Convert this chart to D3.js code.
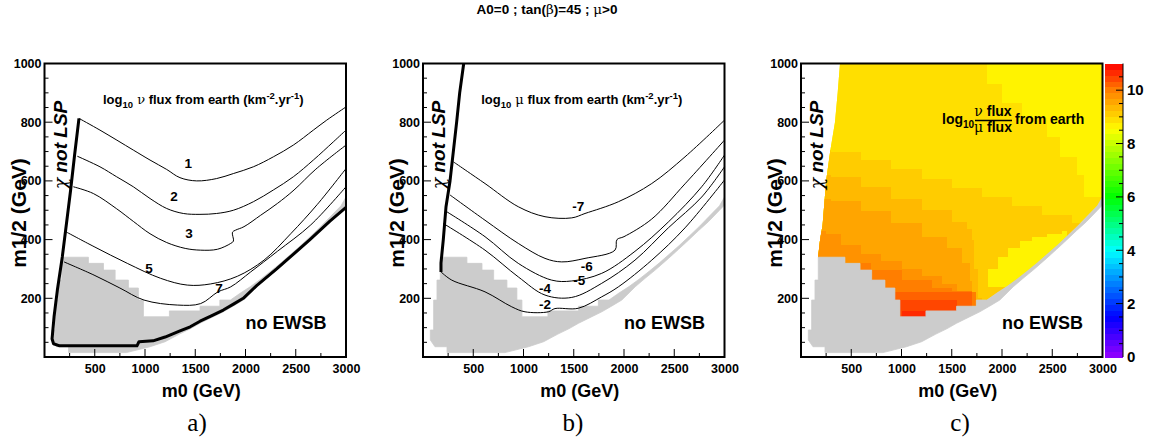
<!DOCTYPE html>
<html><head><meta charset="utf-8">
<script src="https://cdn.jsdelivr.net/npm/d3@7"></script>
<style>body{margin:0;background:#fff}svg{display:block}</style>
</head><body>
<svg id="chart" width="1157" height="441"></svg>
<script>
// ---------------- DATA ----------------
const m0Ticks = [500, 1000, 1500, 2000, 2500, 3000];
const m12Ticks = [200, 400, 600, 800, 1000];
const cbTicks = [0, 2, 4, 6, 8, 10];

// chi not LSP boundaries
const lspLineA = [[343,813],[300,690],[260,569],[227,478],[177,341],[128,228],[95,137],[80,80],[75,62]];
const ewsbLineA = [[75,62],[90,45],[150,38],[920,38],[940,52],[1080,55],[1200,68],[1342,88],[1450,103],[1548,122],[1660,140],[1779,160],[1880,180],[1978,200],[2111,243],[2310,300],[2443,340],[2641,400],[2840,463],[3000,510]];
const lspLineB = [[179,290],[179,320],[202,400],[229,512],[269,600],[335,801],[365,900],[401,990],[405,1000]];
const lspEdgeC = [[170,340],[190,400],[215,450],[250,600],[290,700],[338,800],[365,900],[388,1000]];

// grey (excluded) region
const greyTopEdge = [[73,58],[73,92],[106,92],[106,194],[139,194],[139,262],[172,262],[172,340],[437,340],[437,319],[587,319],[587,296],[703,296],[703,262],[835,262],[835,235],[934,235],[934,194],[984,194],[984,137],[1243,137],[1243,157],[1548,157],[1548,173],[1745,173],[1745,194],[1850,194],[1950,218],[2050,240],[2150,265],[2250,292],[2350,320],[2450,350],[2550,380],[2650,412],[2750,445],[2850,480],[2950,515],[3000,545]];
const ewsbBoundary = [[119,35],[239,35],[239,15],[815,15],[1050,35],[1200,52],[1342,78],[1450,96],[1548,115],[1660,134],[1779,154],[1880,174],[1978,194],[2040,215],[2111,239],[2210,268],[2310,296],[2443,336],[2540,366],[2641,398],[2740,430],[2840,461],[2950,500],[3000,518]];

// panel a : log10 nu flux contours
const nuContour1 = [[343,813],[552,773],[884,705],[1050,671],[1216,639],[1348,611],[1514,600],[1713,608],[1879,625],[2078,648],[2277,682],[2476,722],[2675,773],[2808,807],[3000,852]];
const nuContour2 = [[327,684],[552,648],[718,614],[884,580],[1050,540],[1216,506],[1381,489],[1547,486],[1713,489],[1879,500],[2078,529],[2277,569],[2476,614],[2675,671],[2874,733],[3000,773]];
const nuContour3 = [[287,580],[486,557],[718,505],[884,462],[1050,420],[1216,390],[1400,370],[1554,364],[1720,367],[1853,387],[1880,395],[1870,425],[1900,432],[1985,444],[2151,483],[2317,523],[2483,569],[2700,640],[3000,722]];
const nuContour5 = [[211,427],[493,376],[824,319],[1156,268],[1421,245],[1654,249],[1919,275],[2184,330],[2450,420],[2715,520],[3000,642]];
const nuContour7 = [[194,324],[493,279],[750,235],[990,194],[1321,177],[1554,182],[1726,222],[1853,239],[2052,290],[2317,360],[2649,450],[3000,580]];
const nuLabelText = ["1","2","3","5","7"];
const nuLabelPos = [[1431,659],[1289,546],[1438,421],[1040,302],[1736,234]];

// panel b : log10 mu flux contours
const muContourM7 = [[302,665],[617,591],[948,512],[1214,478],[1480,474],[1612,489],[1944,529],[2276,591],[2607,682],[3000,807]];
const muContourM6 = [[269,552],[617,466],[948,387],[1214,336],[1380,324],[1612,336],[1910,364],[1930,400],[2000,410],[2276,470],[2607,590],[3000,739]];
const muContourM5 = [[236,495],[617,410],[948,319],[1280,262],[1480,259],[1778,285],[2109,360],[2441,460],[2773,580],[3000,688]];
const muContourM4 = [[202,455],[617,364],[948,273],[1214,211],[1480,203],[1778,251],[2109,330],[2441,440],[2773,545],[3000,648]];
const muContourM2 = [[179,290],[286,262],[617,222],[883,171],[1015,154],[1247,154],[1313,165],[1545,166],[1778,205],[1944,239],[2276,330],[2607,440],[3000,603]];
const muLabelText = ["-7","-6","-5","-4","-2"];
const muLabelPos = [[1545,512],[1629,307],[1555,262],[1214,234],[1214,178]];

// panel c : log10(nu flux / mu flux) bands (region below each edge takes the level)
const ratioLevels = [9.0, 9.2, 9.4, 9.6, 9.85, 10.05, 10.3, 10.55, 10.75];
const ratioBase = 8.75;
const ratioEdge90 = [[0,1100],[1650,1100],[1700,1000],[1850,930],[2000,865],[2200,815],[2450,750],[2580,680],[2750,620],[2820,545],[3000,530]];
const ratioEdge92 = [[0,705],[300,700],[600,672],[900,640],[1200,605],[1500,575],[1800,545],[2100,515],[2400,485],[2700,455],[3000,430]];
const ratioEdge94 = [[0,620],[300,612],[600,580],[900,540],[1200,500],[1500,460],[1650,435],[1700,400],[1720,300],[1760,200],[1800,150]];
const ratioEdge96 = [[0,540],[300,532],[600,498],[900,455],[1200,410],[1450,370],[1600,320],[1680,260],[1700,150]];
const ratioEdge985 = [[0,430],[250,420],[400,380],[600,352],[800,326],[1000,300],[1200,275],[1400,248],[1550,225],[1600,185],[1620,100]];
const ratioEdge1005 = [[600,320],[700,296],[1000,262],[1300,235],[1500,225],[1700,220],[1740,200],[1740,100]];
const ratioEdge103 = [[930,222],[1700,222],[1700,100]];
const ratioEdge1055 = [[980,194],[1550,194],[1550,100]];
const ratioEdge1075 = [[1000,157],[1243,157],[1243,100]];
const ratioPocket = [[1860,240],[1860,300],[1960,340],[2060,370],[2180,395],[2300,410],[2450,420],[2600,430],[2650,300],[2650,240]];

// ---------------- RENDER ----------------
const svg = d3.select("#chart");
const FONT = "'Liberation Sans', Arial, Helvetica, sans-serif";
const panelBoxes = [
  {l:44.5, r:346, t:63.5, b:357},
  {l:423, r:724.5, t:63.5, b:357},
  {l:801, r:1102.5, t:63.5, b:357}
];

const hueScale = d3.scaleLinear().domain([0,2,4,6,8.55,10,11]).range([275,228,180,120,60,30,0]);
const nBands = 50, zMax = 11;
function bandColor(v){
  const k = Math.max(0, Math.min(nBands-1, Math.floor(v/zMax*nBands)));
  const c = (k+0.5)*zMax/nBands;
  return d3.hsl(hueScale(c), 1, 0.5).formatHex();
}

function panel(i){
  const B = panelBoxes[i];
  const x = d3.scaleLinear().domain([0,3000]).range([B.l,B.r]);
  const y = d3.scaleLinear().domain([0,1000]).range([B.b,B.t]);
  const g = svg.append("g");
  return {B,x,y,g};
}
function lineGen(p, curve){ return d3.line().x(d=>p.x(d[0])).y(d=>p.y(d[1])).curve(curve||d3.curveLinear); }

function drawAxes(p){
  const {B,x,y,g} = p;
  const ax = g.append("g");
  const xt = d3.range(250, 3000, 250);
  ax.selectAll(".xt").data(xt).join("line")
    .attr("x1", d=>x(d)).attr("x2", d=>x(d))
    .attr("y1", B.b).attr("y2", d=> B.b - (d%500===0?8:4))
    .attr("stroke","#000").attr("stroke-width",1);
  const yt = d3.range(50, 1000, 50);
  ax.selectAll(".yt").data(yt).join("line")
    .attr("y1", d=>y(d)).attr("y2", d=>y(d))
    .attr("x1", B.l).attr("x2", d=> B.l + (d%200===0?8:4))
    .attr("stroke","#000").attr("stroke-width",1);
  const xa = d3.axisBottom(x).tickValues(m0Ticks).tickSize(0).tickPadding(7).tickFormat(d3.format("d"));
  const xg = ax.append("g").attr("transform",`translate(0,${B.b})`).call(xa);
  xg.select(".domain").remove();
  xg.selectAll("text").attr("font-family",FONT).attr("font-weight","bold").attr("font-size",12.5).attr("fill","#000");
  const ya = d3.axisLeft(y).tickValues(m12Ticks).tickSize(0).tickPadding(3).tickFormat(d3.format("d"));
  const yg = ax.append("g").attr("transform",`translate(${B.l},0)`).call(ya);
  yg.select(".domain").remove();
  yg.selectAll("text").attr("font-family",FONT).attr("font-weight","bold").attr("font-size",12.5).attr("fill","#000");
  g.append("rect").attr("x",B.l).attr("y",B.t).attr("width",B.r-B.l).attr("height",B.b-B.t)
    .attr("fill","none").attr("stroke","#000").attr("stroke-width",2);
  g.append("text").attr("x",(B.l+B.r)/2+6).attr("y",397).attr("text-anchor","middle")
    .attr("font-family",FONT).attr("font-weight","bold").attr("font-size",18).text("m0 (GeV)");
  g.append("text").attr("transform",`translate(${B.l-19},213) rotate(-90)`).attr("text-anchor","middle")
    .attr("font-family",FONT).attr("font-weight","bold").attr("font-size",21).text("m1/2 (GeV)");
}

function drawGrey(p){
  const poly = greyTopEdge.concat(ewsbBoundary.slice().reverse());
  p.g.append("path").attr("d", lineGen(p)(poly)+"Z").attr("fill","#cccccc")
    .attr("stroke","#cccccc").attr("stroke-width",0.8).attr("stroke-linejoin","miter");
}
function drawLsp(p, pts){
  p.g.append("g").selectAll("path").data([pts]).join("path")
    .attr("d", lineGen(p)).attr("fill","none").attr("stroke","#000").attr("stroke-width",3).attr("stroke-linejoin","round");
}
function lspText(p){
  const tx = p.B.l + 22, ty = 145;
  p.g.append("text").attr("transform",`translate(${tx},${ty}) rotate(-90)`).attr("text-anchor","middle")
    .attr("font-family",FONT).attr("font-weight","bold").attr("font-style","italic").attr("font-size",19)
    .call(t=>{ t.append("tspan").attr("font-family","'DejaVu Serif', serif").attr("font-weight","normal").text("\u03c7");
               t.append("tspan").text(" not LSP"); });
}
function noEwsb(p){
  p.g.append("text").attr("x",p.B.l+201).attr("y",329).attr("font-family",FONT).attr("font-weight","bold")
    .attr("font-size",18).text("no EWSB");
}
function contours(p, list, labels, pos){
  p.g.append("g").selectAll("path").data(list).join("path")
    .attr("d", lineGen(p, d3.curveCatmullRom.alpha(0.5))).attr("fill","none").attr("stroke","#000").attr("stroke-width",1);
  p.g.append("g").selectAll("text").data(labels).join("text")
    .attr("x",(d,i)=>p.x(pos[i][0])).attr("y",(d,i)=>p.y(pos[i][1]))
    .attr("text-anchor","middle").attr("dominant-baseline","central")
    .attr("font-family",FONT).attr("font-weight","bold").attr("font-size",13.5).text(d=>d);
}
function fluxTitle(p, greek){
  const t = p.g.append("text").attr("x",(p.B.l+p.B.r)/2+8).attr("y",104).attr("text-anchor","middle")
    .attr("font-family",FONT).attr("font-weight","bold").attr("font-size",13);
  t.append("tspan").text("log");
  t.append("tspan").attr("dy",4).attr("font-size",9.5).text("10");
  t.append("tspan").attr("dy",-4).attr("font-weight","normal").attr("font-family","'DejaVu Serif', serif").text(" "+greek);
  t.append("tspan").text(" flux from earth (km");
  t.append("tspan").attr("dy",-5).attr("font-size",9.5).text("-2");
  t.append("tspan").attr("dy",5).text(".yr");
  t.append("tspan").attr("dy",-5).attr("font-size",9.5).text("-1");
  t.append("tspan").attr("dy",5).text(")");
}

// ---- Title
svg.append("text").attr("x",547).attr("y",14).attr("text-anchor","middle").attr("font-family",FONT)
  .attr("font-weight","bold").attr("font-size",13.5)
  .call(t=>{ t.append("tspan").text("A0=0 ; tan(");
    t.append("tspan").attr("font-family","'DejaVu Serif', serif").attr("font-weight","normal").text("\u03b2");
    t.append("tspan").text(")=45 ; ");
    t.append("tspan").attr("font-family","'DejaVu Serif', serif").attr("font-weight","normal").text("\u03bc");
    t.append("tspan").text(">0"); });

// ---- Panel a
const pa = panel(0);
drawGrey(pa);
contours(pa, [nuContour1,nuContour2,nuContour3,nuContour5,nuContour7], nuLabelText, nuLabelPos);
drawLsp(pa, lspLineA.concat(ewsbLineA));
lspText(pa); noEwsb(pa); fluxTitle(pa, "\u03bd"); drawAxes(pa);

// ---- Panel b
const pb = panel(1);
drawGrey(pb);
contours(pb, [muContourM7,muContourM6,muContourM5,muContourM4,muContourM2], muLabelText, muLabelPos);
drawLsp(pb, lspLineB);
lspText(pb); noEwsb(pb); fluxTitle(pb, "\u03bc"); drawAxes(pb);

// ---- Panel c
const pc = panel(2);
const cornerIdx = greyTopEdge.findIndex(d => d[0]===172 && d[1]===340);
const clipPoly = lspEdgeC.concat([[3000,1000]], greyTopEdge.slice(cornerIdx).reverse());
svg.append("defs").append("clipPath").attr("id","validC").append("path").attr("d", lineGen(pc)(clipPoly)+"Z");
const cg = pc.g.append("g").attr("clip-path","url(#validC)").attr("shape-rendering","crispEdges");
cg.append("rect").attr("x",pc.x(0)).attr("y",pc.y(1000)).attr("width",pc.x(3000)-pc.x(0)).attr("height",pc.y(0)-pc.y(1000)).attr("fill",bandColor(ratioBase));
const edges = [ratioEdge90,ratioEdge92,ratioEdge94,ratioEdge96,ratioEdge985,ratioEdge1005,ratioEdge103,ratioEdge1055,ratioEdge1075];
cg.selectAll(".band").data(edges).join("path")
  .attr("d", e => lineGen(pc, d3.curveStepAfter)(e.concat([[e[e.length-1][0],0],[e[0][0],0]]))+"Z")
  .attr("fill", (e,i)=>bandColor(ratioLevels[i]));
cg.append("path").attr("d", lineGen(pc, d3.curveStepAfter)(ratioPocket)+"Z").attr("fill",bandColor(ratioBase));
drawGrey(pc);
lspText(pc); noEwsb(pc); drawAxes(pc);
{
  const tg = pc.g.append("g").attr("font-family",FONT).attr("font-weight","bold").attr("font-size",14);
  tg.append("text").attr("x",942).attr("y",124).call(t=>{t.append("tspan").text("log"); t.append("tspan").attr("dy",4).attr("font-size",10).text("10");});
  tg.append("text").attr("x",993).attr("y",116).attr("text-anchor","middle").call(t=>{t.append("tspan").attr("font-weight","normal").attr("font-family","'DejaVu Serif', serif").text("\u03bd"); t.append("tspan").text(" flux");});
  tg.append("line").attr("x1",975).attr("x2",1012).attr("y1",120.5).attr("y2",120.5).attr("stroke","#000").attr("stroke-width",1.5);
  tg.append("text").attr("x",993).attr("y",132).attr("text-anchor","middle").call(t=>{t.append("tspan").attr("font-weight","normal").attr("font-family","'DejaVu Serif', serif").text("\u03bc"); t.append("tspan").text(" flux");});
  tg.append("text").attr("x",1015).attr("y",124).text("from earth");
}

// ---- Colour bar
const cbY = d3.scaleLinear().domain([0,zMax]).range([357,63.5]);
const cbX0 = 1105, cbX1 = 1123;
const bands = d3.range(nBands).map(k=>k*zMax/nBands);
svg.append("g").attr("shape-rendering","crispEdges").selectAll("rect").data(bands).join("rect")
  .attr("x",cbX0).attr("width",cbX1-cbX0)
  .attr("y",d=>cbY(d+zMax/nBands)).attr("height",d=>cbY(d)-cbY(d+zMax/nBands)+0.5)
  .attr("fill",d=>bandColor(d+zMax/nBands/2));
const cbt = d3.range(0.5, 11, 0.5);
svg.append("g").selectAll("line").data(cbt).join("line")
  .attr("x1",cbX1).attr("x2",d=>cbX1-(d%2===0?7:4)).attr("y1",d=>cbY(d)).attr("y2",d=>cbY(d))
  .attr("stroke","#000").attr("stroke-width",1);
svg.append("line").attr("x1",cbX1).attr("x2",cbX1).attr("y1",cbY(0)).attr("y2",cbY(zMax)).attr("stroke","#000").attr("stroke-width",1);
const cba = d3.axisRight(cbY).tickValues(cbTicks).tickSize(0).tickPadding(4).tickFormat(d3.format("d"));
const cbg = svg.append("g").attr("transform",`translate(${cbX1},0)`).call(cba);
cbg.select(".domain").remove();
cbg.selectAll("text").attr("font-family",FONT).attr("font-weight","bold").attr("font-size",15).attr("fill","#000");

// ---- sub-figure letters
const letters = ["a)","b)","c)"];
const letterX = [197, 573, 960];
svg.append("g").selectAll("text").data(letters).join("text")
  .attr("x",(d,i)=>letterX[i]).attr("y",431).attr("text-anchor","middle")
  .attr("font-family","'Liberation Serif','DejaVu Serif',serif").attr("font-size",25).text(d=>d);
</script>
</body></html>
